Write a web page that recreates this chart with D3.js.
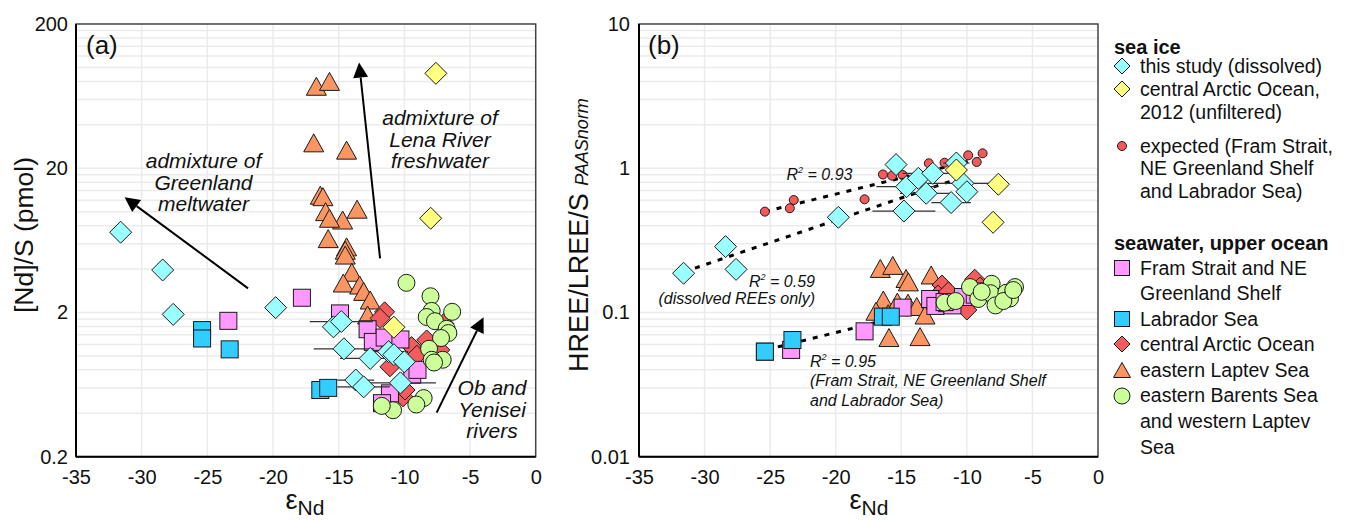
<!DOCTYPE html>
<html><head><meta charset="utf-8">
<script src="https://cdn.jsdelivr.net/npm/d3@7"></script>
<style>
body{margin:0;background:#fff;}
svg{display:block;}
</style></head><body>
<svg id="c" width="1347" height="521"></svg>
<script>
// ---------------- DATA ----------------
const xTicks = [-35,-30,-25,-20,-15,-10,-5,0];
const yTicksA = [0.2,2,20,200];
const yTicksB = [0.01,0.1,1,10];

// sea ice, this study (dissolved)
const iceEps = [-31.6,-28.4,-27.6,-19.8,-15.4,-14.8,-14.6,-13.7,-13.1,-12.6,-11.2,-10.8,-10.3,-10.0];
const iceErr = [0,0,0,0,0,2.4,2.3,1.4,2.0,2.3,1.5,1.0,2.7,0.6];
const iceNdS = [7.2,3.94,1.94,2.16,1.59,1.73,1.12,0.68,0.61,0.96,1.07,1.02,0.65,0.91];
const iceHL  = [0.187,0.286,0.199,0.457,1.06,0.505,0.745,0.851,0.670,0.922,0.578,1.087,0.785,0.687];

// sea ice, central Arctic Ocean 2012 (unfiltered)
const yelEps = [-7.6,-8.0,-10.8];
const yelNdS = [91,9.0,1.58];
const yelHL  = [0.774,0.422,0.972];

// sea ice, expected
const expEps = [-25.4,-23.2,-23.5,-17.8,-16.4,-15.7,-14.9,-12.9,-11.7,-11.0,-9.9,-9.25,-8.8];
const expHL  = [0.50,0.602,0.528,0.609,0.905,0.888,0.898,1.082,1.092,1.122,1.229,1.105,1.269];

// seawater: Fram Strait and NE Greenland Shelf
const framEps = [-23.4,-17.8,-14.9,-12.8,-12.4,-11.5,-10.3,-9.4,-9.0,-11.1,-11.7];
const framNdS = [1.75,2.53,1.97,1.53,1.25,1.34,1.30,0.74,0.80,0.55,0.47];
const framHL  = [0.055,0.074,0.108,0.124,0.111,0.116,0.128,0.133,0.14,0.112,0.118];

// seawater: Labrador Sea
const labEps = [-25.4,-25.4,-23.3,-16.4,-15.8];
const labNdS = [1.51,1.32,1.11,0.58,0.60];
const labHL  = [0.0535,0.0535,0.0644,0.0935,0.0935];

// seawater: central Arctic Ocean
const cenEpsA = [-11.5,-11.85,-9.45,-9.05,-11.1,-8.3,-7.0,-10.1,-9.95,-7.3];
const cenNdS  = [2.02,1.82,1.16,1.01,0.84,1.29,1.68,0.52,0.58,1.10];
const cenEpsB = [-9.4,-11.9,-12.2,-10.0,-11.4,-9.0,-8.5];
const cenHL   = [0.170,0.155,0.132,0.104,0.139,0.150,0.140];

// seawater: eastern Laptev Sea
const lapEpsA = [-16.7,-15.7,-16.9,-14.4,-16.4,-16.2,-16.0,-14.7,-13.6,-15.7,-15.8,-14.4,-14.5,-14.5,-14.0,-14.65,-13.4,-13.1,-12.6,-12.8];
const lapNdS  = [74,80,30,26.7,13.0,12.7,10.0,8.75,10.4,9.0,6.5,5.7,5.4,5.0,3.8,3.2,3.1,2.8,2.44,1.92];
const lapEpsB = [-16.6,-15.65,-14.64,-14.46,-12.72,-16.37,-16.93,-14.49,-13.82,-13.19,-15.94,-13.57,-15.3,-16.0];
const lapHL   = [0.202,0.212,0.172,0.163,0.182,0.122,0.102,0.116,0.110,0.096,0.067,0.068,0.118,0.098];

// seawater: eastern Barents Sea and western Laptev Sea
const barEpsA = [-9.84,-8.01,-7.92,-6.36,-8.30,-7.67,-6.78,-6.65,-7.21,-8.12,-7.08,-7.92,-7.74,-8.53,-9.09,-10.86,-11.72];
const barNdS  = [3.21,2.59,2.05,2.02,1.86,1.74,1.54,1.44,1.33,1.12,0.94,0.94,0.90,0.51,0.46,0.42,0.45];
const barEpsB = [-11.7,-10.86,-9.76,-9.13,-8.11,-8.19,-7.82,-6.99,-6.33,-6.71,-7.22,-8.87,-6.46];
const barHL   = [0.117,0.120,0.150,0.124,0.158,0.136,0.112,0.137,0.150,0.125,0.12,0.139,0.143];

// regression lines (end points)
const fitExpEps = [-25.4,-9.0],  fitExpHL = [0.50,1.17];
const fitIceEps = [-31.6,-11.0], fitIceHL = [0.191,0.826];
const fitSwEps  = [-25.3,-12.0], fitSwHL  = [0.0551,0.110];

// ---------------- DRAWING ----------------
const FONT = '"Liberation Sans", Arial, Helvetica, sans-serif';
const svg = d3.select('#c').attr('font-family', FONT);
const A = {x: d3.scaleLinear([-35,0],[76,535.7]), y: d3.scaleLog([0.2,200],[456.7,24])};
const B = {x: d3.scaleLinear([-35,0],[639,1098]), y: d3.scaleLog([0.01,10],[456.7,24])};

const C = {cyan:'#99ffff', yel:'#ffff80', exp:'#f55a5a', pink:'#ff99ff', blue:'#33ccff',
           red:'#f25c5c', orange:'#fb9562', green:'#ccff99'};
const STK = '#1a1a1a';

function diamondPath(cx,cy,r){return `M${cx},${cy-r}L${cx+r},${cy}L${cx},${cy+r}L${cx-r},${cy}Z`;}
function triPath(cx,cy,w,h){return `M${cx},${cy-h/2}L${cx+w/2},${cy+h/2}L${cx-w/2},${cy+h/2}Z`;}

function panelBase(P, yTicks, yPad){
  const g = svg.append('g');
  const [xl,xr] = P.x.range(), [yb,yt] = P.y.range();
  g.selectAll('line.vg').data(xTicks.slice(1,-1)).join('line')
    .attr('x1',d=>P.x(d)).attr('x2',d=>P.x(d)).attr('y1',yt).attr('y2',yb)
    .attr('stroke','#ebebeb').attr('stroke-width',1.5);
  const minor=[]; yTicks.slice(0,-1).forEach(b=>{for(let k=1;k<10;k++) minor.push(b*k);});
  g.selectAll('line.hg').data(minor.slice(1)).join('line')
    .attr('x1',xl).attr('x2',xr).attr('y1',d=>P.y(d)).attr('y2',d=>P.y(d))
    .attr('stroke','#ebebeb').attr('stroke-width',1.5);
  const ax = g.append('g').attr('transform',`translate(0,${yb})`)
    .call(d3.axisBottom(P.x).tickValues(xTicks).tickSize(0).tickPadding(13).tickFormat(d=>String(d)));
  ax.select('.domain').remove();
  ax.attr('font-family',FONT).attr('font-size',20).selectAll('text').attr('fill','#111');
  const ay = g.append('g').attr('transform',`translate(${xl},0)`)
    .call(d3.axisLeft(P.y).tickValues(yTicks).tickSize(0).tickPadding(yPad).tickFormat(d=>String(d)));
  ay.select('.domain').remove();
  ay.attr('font-family',FONT).attr('font-size',20).selectAll('text').attr('fill','#111');
  g.append('rect').attr('x',xl).attr('y',yt).attr('width',xr-xl).attr('height',yb-yt)
    .attr('fill','none').attr('stroke','#444').attr('stroke-width',1.5);
  g.append('line').attr('x1',xl).attr('x2',xl).attr('y1',yt).attr('y2',yb).attr('stroke','#000').attr('stroke-width',2);
  g.append('line').attr('x1',xl).attr('x2',xr).attr('y1',yb).attr('y2',yb).attr('stroke','#000').attr('stroke-width',2);
  return g;
}

function pts(eps, vals){return eps.map((e,i)=>({e, v:vals[i]}));}
function drawDiamonds(g,P,data,fill,r=11){
  g.append('g').selectAll('path').data(data).join('path')
   .attr('d',d=>diamondPath(P.x(d.e),P.y(d.v),r)).attr('fill',fill).attr('stroke',STK).attr('stroke-width',1);
}
function drawSquares(g,P,data,fill,s=17){
  g.append('g').selectAll('rect').data(data).join('rect')
   .attr('x',d=>P.x(d.e)-s/2).attr('y',d=>P.y(d.v)-s/2).attr('width',s).attr('height',s)
   .attr('fill',fill).attr('stroke',STK).attr('stroke-width',1);
}
function drawTris(g,P,data,fill){
  g.append('g').selectAll('path').data(data).join('path')
   .attr('d',d=>triPath(P.x(d.e),P.y(d.v),20,18)).attr('fill',fill).attr('stroke',STK).attr('stroke-width',1);
}
function drawCircles(g,P,data,fill,r){
  g.append('g').selectAll('circle').data(data).join('circle')
   .attr('cx',d=>P.x(d.e)).attr('cy',d=>P.y(d.v)).attr('r',r)
   .attr('fill',fill).attr('stroke',STK).attr('stroke-width',1);
}
function drawErr(g,P,eps,vals,err){
  const d = eps.map((e,i)=>({e,v:vals[i],s:err[i]})).filter(d=>d.s>0);
  g.append('g').selectAll('line').data(d).join('line')
   .attr('x1',d=>P.x(d.e-d.s)).attr('x2',d=>P.x(d.e+d.s))
   .attr('y1',d=>P.y(d.v)).attr('y2',d=>P.y(d.v)).attr('stroke','#333').attr('stroke-width',1.3);
}
function drawFit(g,P,ex,vy){
  g.append('line').attr('x1',P.x(ex[0])).attr('x2',P.x(ex[1])).attr('y1',P.y(vy[0])).attr('y2',P.y(vy[1]))
   .attr('stroke','#000').attr('stroke-width',3).attr('stroke-dasharray','5,7');
}
function arrow(g,P,x1,y1,x2,y2){
  const ax1=P.x(x1), ay1=P.y(y1), ax2=P.x(x2), ay2=P.y(y2);
  const dx=ax2-ax1, dy=ay2-ay1, L=Math.hypot(dx,dy), ux=dx/L, uy=dy/L;
  const hl=15, hw=7.5;
  const bx=ax2-ux*hl, by=ay2-uy*hl;
  g.append('line').attr('x1',ax1).attr('y1',ay1).attr('x2',bx).attr('y2',by).attr('stroke','#000').attr('stroke-width',2);
  g.append('path').attr('d',`M${ax2},${ay2}L${bx-uy*hw},${by+ux*hw}L${bx+uy*hw},${by-ux*hw}Z`).attr('fill','#000');
}
function mtext(g,x,lines,baselines,size,anchor='middle'){
  const t=g.append('text').attr('font-size',size).attr('font-style','italic').attr('text-anchor',anchor).attr('fill','#111');
  lines.forEach((s,i)=>t.append('tspan').attr('x',x).attr('y',baselines[i]).text(s));
}
function r2text(g,x,y,val,anchor){
  const t=g.append('text').attr('x',x).attr('y',y).attr('font-size',16).attr('font-style','italic').attr('text-anchor',anchor).attr('fill','#111');
  t.append('tspan').text('R');
  t.append('tspan').attr('font-size',9).attr('dy',-7).text('2');
  t.append('tspan').attr('dy',7).text(' = '+val);
}

// ---- Panel (a) ----
const gA = panelBase(A, yTicksA, 8);
drawTris(gA,A,pts(lapEpsA,lapNdS),C.orange);
drawDiamonds(gA,A,pts(cenEpsA,cenNdS),C.red,10);
drawSquares(gA,A,pts(framEps,framNdS),C.pink);
drawSquares(gA,A,pts(labEps,labNdS),C.blue);
drawCircles(gA,A,pts(barEpsA,barNdS),C.green,8.5);
drawErr(gA,A,iceEps,iceNdS,iceErr);
drawDiamonds(gA,A,pts(iceEps,iceNdS),C.cyan);
drawDiamonds(gA,A,pts(yelEps,yelNdS),C.yel);
arrow(gA,A,-21.9,2.94,-31.3,12.6);
arrow(gA,A,-11.85,4.75,-13.45,108);
arrow(gA,A,-7.54,0.404,-3.97,1.85);
mtext(gA,203.5,['admixture of','Greenland','meltwater'],[168,189.5,211],21);
mtext(gA,440,['admixture of','Lena River','freshwater'],[125,146.5,168],21);
mtext(gA,492,['Ob and','Yenisei','rivers'],[395,416.5,437.5],21);
gA.append('text').attr('x',86).attr('y',54).attr('font-size',26).attr('fill','#111').text('(a)');
gA.append('text').attr('transform','translate(33,235) rotate(-90)').attr('text-anchor','middle')
  .attr('font-size',26.5).attr('fill','#111').text('[Nd]/S (pmol)');
const xtA = gA.append('text').attr('x',305).attr('y',509).attr('text-anchor','middle').attr('fill','#111');
xtA.append('tspan').attr('font-size',27).text('ε');
xtA.append('tspan').attr('font-size',21).attr('dy',6).text('Nd');

// ---- Panel (b) ----
const gB = panelBase(B, yTicksB, 9);
drawFit(gB,B,fitExpEps,fitExpHL);
drawFit(gB,B,fitIceEps,fitIceHL);
drawFit(gB,B,fitSwEps,fitSwHL);
drawTris(gB,B,pts(lapEpsB,lapHL),C.orange);
drawDiamonds(gB,B,pts(cenEpsB,cenHL),C.red,10);
drawSquares(gB,B,pts(framEps,framHL),C.pink);
drawSquares(gB,B,pts(labEps,labHL),C.blue);
drawCircles(gB,B,pts(barEpsB,barHL),C.green,8.5);
drawCircles(gB,B,pts(expEps,expHL),C.exp,4.5);
drawErr(gB,B,iceEps,iceHL,iceErr);
drawDiamonds(gB,B,pts(iceEps,iceHL),C.cyan);
drawDiamonds(gB,B,pts(yelEps,yelHL),C.yel);
r2text(gB,786.5,180,'0.93','start');
r2text(gB,815,286.5,'0.59','end');
mtext(gB,815,['(dissolved REEs only)'],[304],16,'end');
r2text(gB,810,367,'0.95','start');
mtext(gB,810,['(Fram Strait, NE Greenland Shelf','and Labrador Sea)'],[386,405.5],16,'start');
gB.append('text').attr('x',648).attr('y',54).attr('font-size',26).attr('fill','#111').text('(b)');
const ytB = gB.append('text').attr('transform','translate(588,235) rotate(-90)').attr('text-anchor','middle').attr('fill','#111');
ytB.append('tspan').attr('font-size',27).text('HREE/LREE/S ');
ytB.append('tspan').attr('font-size',18).attr('font-style','italic').text('PAASnorm');
const xtB = gB.append('text').attr('x',869).attr('y',509).attr('text-anchor','middle').attr('fill','#111');
xtB.append('tspan').attr('font-size',27).text('ε');
xtB.append('tspan').attr('font-size',21).attr('dy',6).text('Nd');

// ---- Legend ----
const legHeads = [{t:'sea ice', y:53.5},{t:'seawater, upper ocean', y:249.5}];
const legLines = [
  {t:'this study (dissolved)', y:72.5}, {t:'central Arctic Ocean,', y:95.5}, {t:'2012 (unfiltered)', y:118.5},
  {t:'expected (Fram Strait,', y:152.5}, {t:'NE Greenland Shelf', y:175}, {t:'and Labrador Sea)', y:198},
  {t:'Fram Strait and NE', y:274.5}, {t:'Greenland Shelf', y:299.5}, {t:'Labrador Sea', y:325.5},
  {t:'central Arctic Ocean', y:350.5}, {t:'eastern Laptev Sea', y:376.5}, {t:'eastern Barents Sea', y:402},
  {t:'and western Laptev', y:427.5}, {t:'Sea', y:453.5}];
const gL = svg.append('g');
gL.selectAll('text.h').data(legHeads).join('text').attr('x',1114).attr('y',d=>d.y)
  .attr('font-size',20).attr('font-weight','bold').attr('fill','#111').text(d=>d.t);
gL.selectAll('text.l').data(legLines).join('text').attr('x',1140).attr('y',d=>d.y)
  .attr('font-size',19.5).attr('fill','#111').text(d=>d.t);
const sx = 1122;
gL.append('path').attr('d',diamondPath(sx,66,8)).attr('fill',C.cyan).attr('stroke',STK);
gL.append('path').attr('d',diamondPath(sx,89,8)).attr('fill',C.yel).attr('stroke',STK);
gL.append('circle').attr('cx',sx).attr('cy',146).attr('r',4.5).attr('fill',C.exp).attr('stroke',STK);
gL.append('rect').attr('x',sx-7.5).attr('y',268-7.5).attr('width',15).attr('height',15).attr('fill',C.pink).attr('stroke',STK);
gL.append('rect').attr('x',sx-7.5).attr('y',319-7.5).attr('width',15).attr('height',15).attr('fill',C.blue).attr('stroke',STK);
gL.append('path').attr('d',diamondPath(sx,344,8)).attr('fill',C.red).attr('stroke',STK);
gL.append('path').attr('d',triPath(sx,370,17,15)).attr('fill',C.orange).attr('stroke',STK);
gL.append('circle').attr('cx',sx).attr('cy',396).attr('r',8).attr('fill',C.green).attr('stroke',STK);
</script>
</body></html>
